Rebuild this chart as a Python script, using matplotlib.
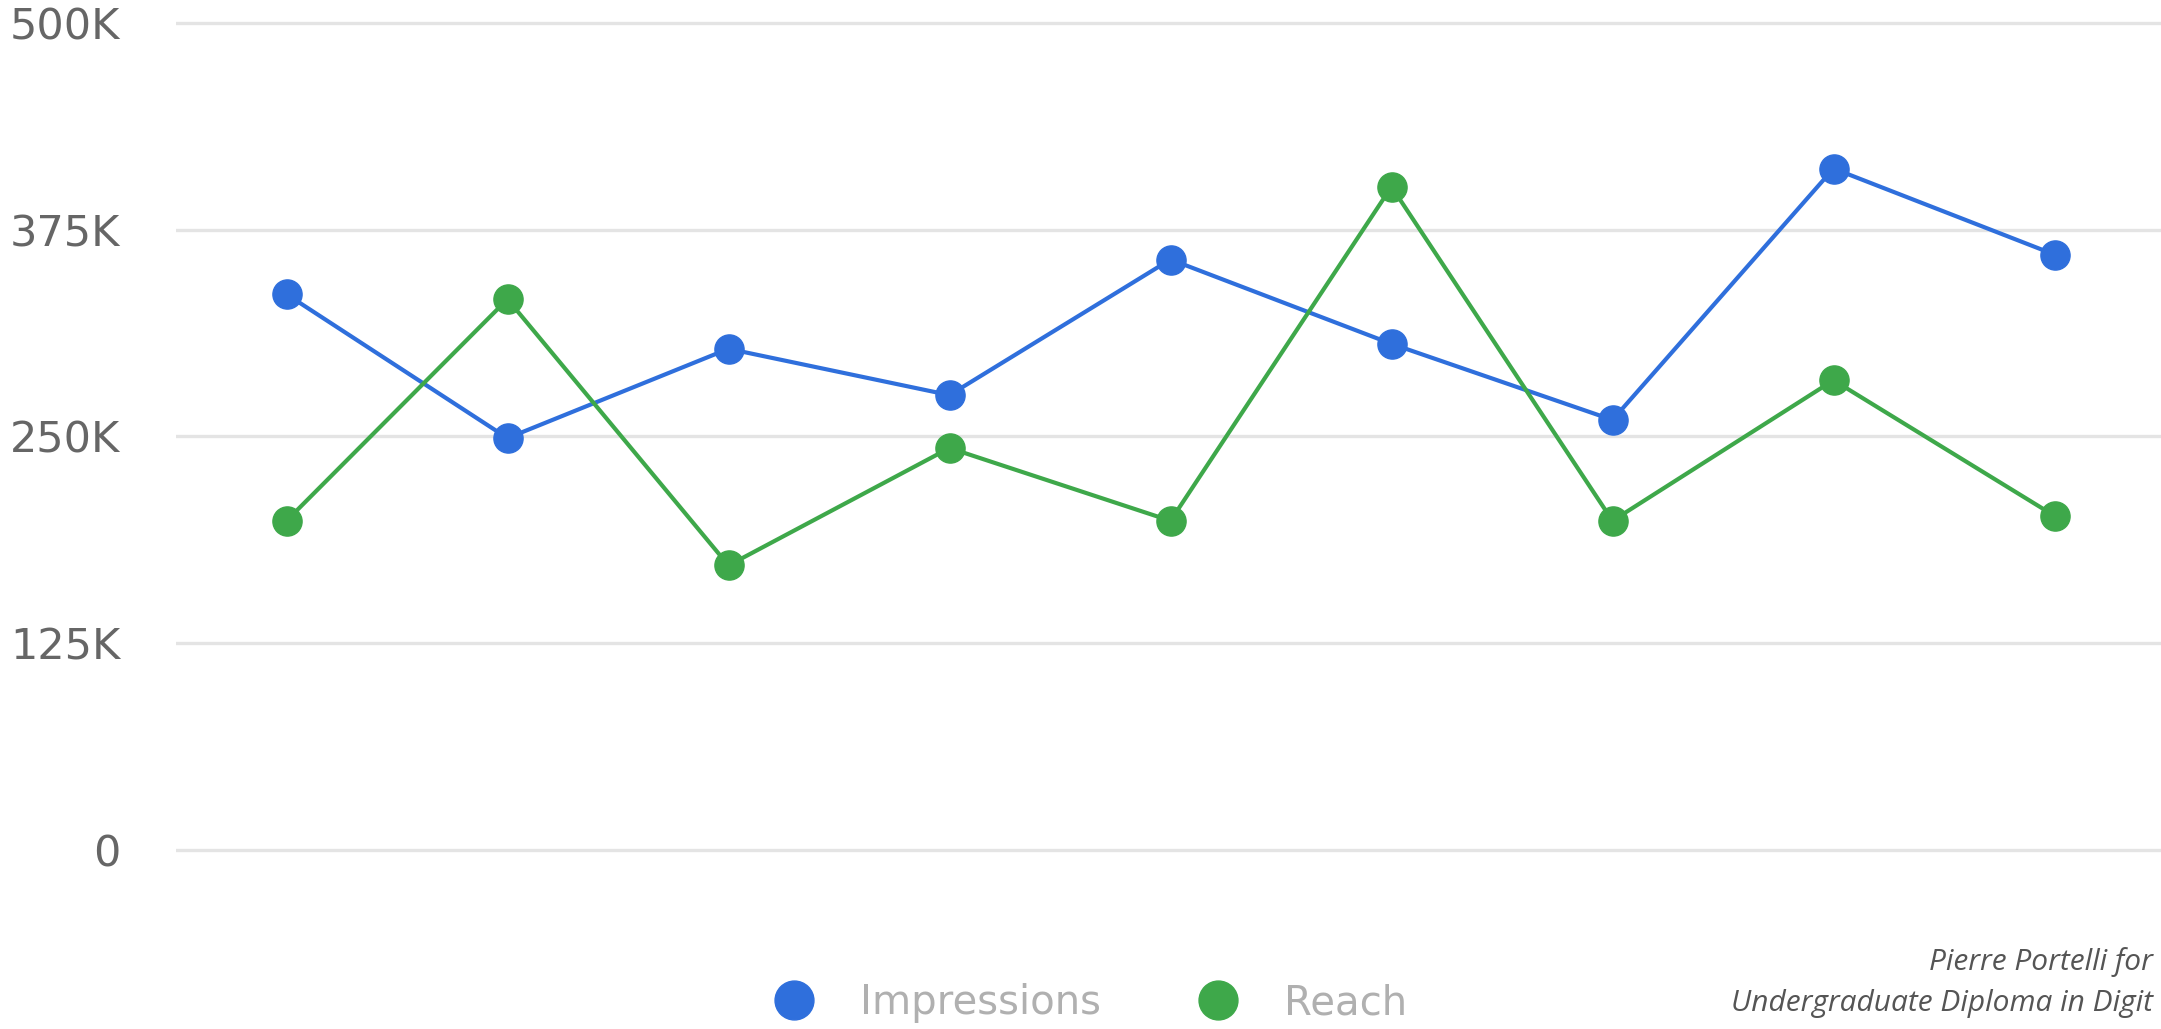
import matplotlib.pyplot as plt
from matplotlib.lines import Line2D
from matplotlib.ticker import FixedLocator

# Data
points = list(range(9))
impressions = [336000, 249000, 303000, 275000, 357000, 306000, 260000, 412000, 360000]
reach = [199000, 333000, 172000, 243000, 199000, 401000, 199000, 284000, 202000]
ytick_vals = [0, 125000, 250000, 375000, 500000]
ytick_labels = ["0", "125K", "250K", "375K", "500K"]

blue = "#2f6fdc"
green = "#3ea84a"

fig = plt.figure(figsize=(21.61, 10.29), dpi=100)
ax = fig.add_axes([176 / 2161, 0.158, 1989 / 2161, 0.8357])

ax.plot(points, impressions, color=blue, lw=3, marker="o", ms=21,
        mec=blue, mfc=blue, zorder=3)
ax.plot(points, reach, color=green, lw=3, marker="o", ms=21,
        mec=green, mfc=green, zorder=3)

ax.set_xlim(-0.5, 8.5)
ax.set_ylim(-10000, 510000)
ax.yaxis.set_major_locator(FixedLocator(ytick_vals))
ax.set_yticklabels(ytick_labels)
ax.set_xticks([])
ax.tick_params(axis="y", length=0, pad=40, labelsize=31, labelcolor="#666666")
ax.grid(axis="y", color="#e4e4e4", lw=2.4)
ax.set_axisbelow(True)
for s in ax.spines.values():
    s.set_visible(False)

# Legend
handles = [
    Line2D([], [], ls="", marker="o", ms=28, color=blue),
    Line2D([], [], ls="", marker="o", ms=28, color=green),
]
fig.legend(handles, ["Impressions", "Reach"], loc="center",
           bbox_to_anchor=(0.5, 0.025), ncol=2, frameon=False,
           fontsize=29, labelcolor="#b0b0b0", handletextpad=0.65,
           columnspacing=1.9)

# Caption
fig.text(2153 / 2161, 1 - 962 / 1029, "Pierre Portelli for", ha="right",
         va="center", fontsize=21.5, style="italic", family="Open Sans",
         color="#555555")
fig.text(2153 / 2161, 1 - 1003 / 1029, "Undergraduate Diploma in Digit",
         ha="right", va="center", fontsize=21.5, style="italic",
         family="Open Sans", color="#555555")

fig.savefig("out.png", dpi=100)
